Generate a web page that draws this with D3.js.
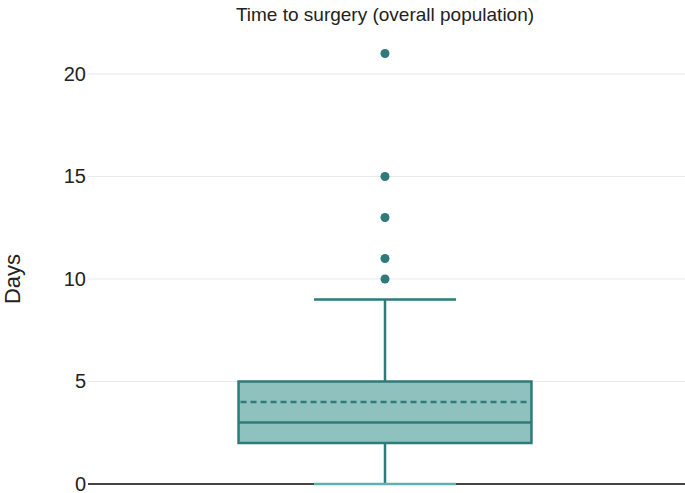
<!DOCTYPE html>
<html><head><meta charset="utf-8">
<script src="https://cdn.jsdelivr.net/npm/d3@7"></script>
<style>body{margin:0;background:#fff}svg{display:block}text{font-family:"Liberation Sans",Arial,sans-serif}</style>
</head><body><svg id="c" width="685" height="493"></svg>
<script>
const categories = ["Overall population"];
const q1 = [2], median = [3], q3 = [5], mean = [4];
const whiskerLow = [0], whiskerHigh = [9];
const outliers = [10, 11, 13, 15, 21];
const yTicks = [0, 5, 10, 15, 20];

const svg = d3.select("#c");
const W = 685, H = 493;
const y = d3.scaleLinear().domain([0, 20]).range([484, 74]);
const x = d3.scaleBand().domain(categories).range([88, 682]).paddingInner(0).paddingOuter(0.514);

// grid
svg.append("g").selectAll("line").data(yTicks.filter(d => d > 0)).join("line")
  .attr("x1", 88).attr("x2", W).attr("y1", d => y(d)).attr("y2", d => y(d))
  .attr("stroke", "#e8e8e8").attr("stroke-width", 1);

// y axis labels
const ax = svg.append("g").attr("transform", "translate(88,0)")
  .call(d3.axisLeft(y).tickValues(yTicks).tickSize(0).tickPadding(2));
ax.select(".domain").remove();
ax.selectAll("text").attr("font-size", 20).attr("dy", "0.3em").attr("fill", "#222").attr("font-family", '"Liberation Sans",Arial,sans-serif');

// baseline
svg.append("line").attr("x1", 88).attr("x2", W).attr("y1", y(0)).attr("y2", y(0))
  .attr("stroke", "#444").attr("stroke-width", 2);

const stroke = "#2f7a7a", fill = "#8fc2bf";
categories.forEach((c, i) => {
  const x0 = x(c), bw = x.bandwidth(), cx = x0 + bw / 2, capW = bw * 0.485;
  svg.append("line").attr("x1", cx).attr("x2", cx).attr("y1", y(q3[i])).attr("y2", y(whiskerHigh[i]))
    .attr("stroke", stroke).attr("stroke-width", 2.5);
  svg.append("line").attr("x1", cx).attr("x2", cx).attr("y1", y(q1[i])).attr("y2", y(whiskerLow[i]))
    .attr("stroke", stroke).attr("stroke-width", 2.5);
  svg.append("line").attr("x1", cx - capW / 2).attr("x2", cx + capW / 2).attr("y1", y(whiskerHigh[i])).attr("y2", y(whiskerHigh[i]))
    .attr("stroke", stroke).attr("stroke-width", 2.5);
  svg.append("line").attr("x1", cx - capW / 2).attr("x2", cx + capW / 2).attr("y1", y(whiskerLow[i])).attr("y2", y(whiskerLow[i]))
    .attr("stroke", "#5fb0ae").attr("stroke-width", 2.5);
  svg.append("rect").attr("x", x0).attr("width", bw).attr("y", y(q3[i])).attr("height", y(q1[i]) - y(q3[i]))
    .attr("fill", fill).attr("stroke", stroke).attr("stroke-width", 2.5);
  svg.append("line").attr("x1", x0).attr("x2", x0 + bw).attr("y1", y(median[i])).attr("y2", y(median[i]))
    .attr("stroke", stroke).attr("stroke-width", 2.5);
  svg.append("line").attr("x1", x0 + 2).attr("x2", x0 + bw - 2).attr("y1", y(mean[i])).attr("y2", y(mean[i]))
    .attr("stroke", stroke).attr("stroke-width", 2.5).attr("stroke-dasharray", "6,4");
  svg.append("g").selectAll("circle").data(outliers).join("circle")
    .attr("cx", cx).attr("cy", d => y(d)).attr("r", 4.5).attr("fill", "#2f7a7a");
});

svg.append("text").attr("x", 385).attr("y", 21).attr("text-anchor", "middle")
  .attr("font-size", 19).attr("fill", "#222").text("Time to surgery (overall population)");
svg.append("text").attr("transform", "translate(20,279) rotate(-90)").attr("text-anchor", "middle")
  .attr("font-size", 22).attr("fill", "#222").text("Days");
</script></body></html>
